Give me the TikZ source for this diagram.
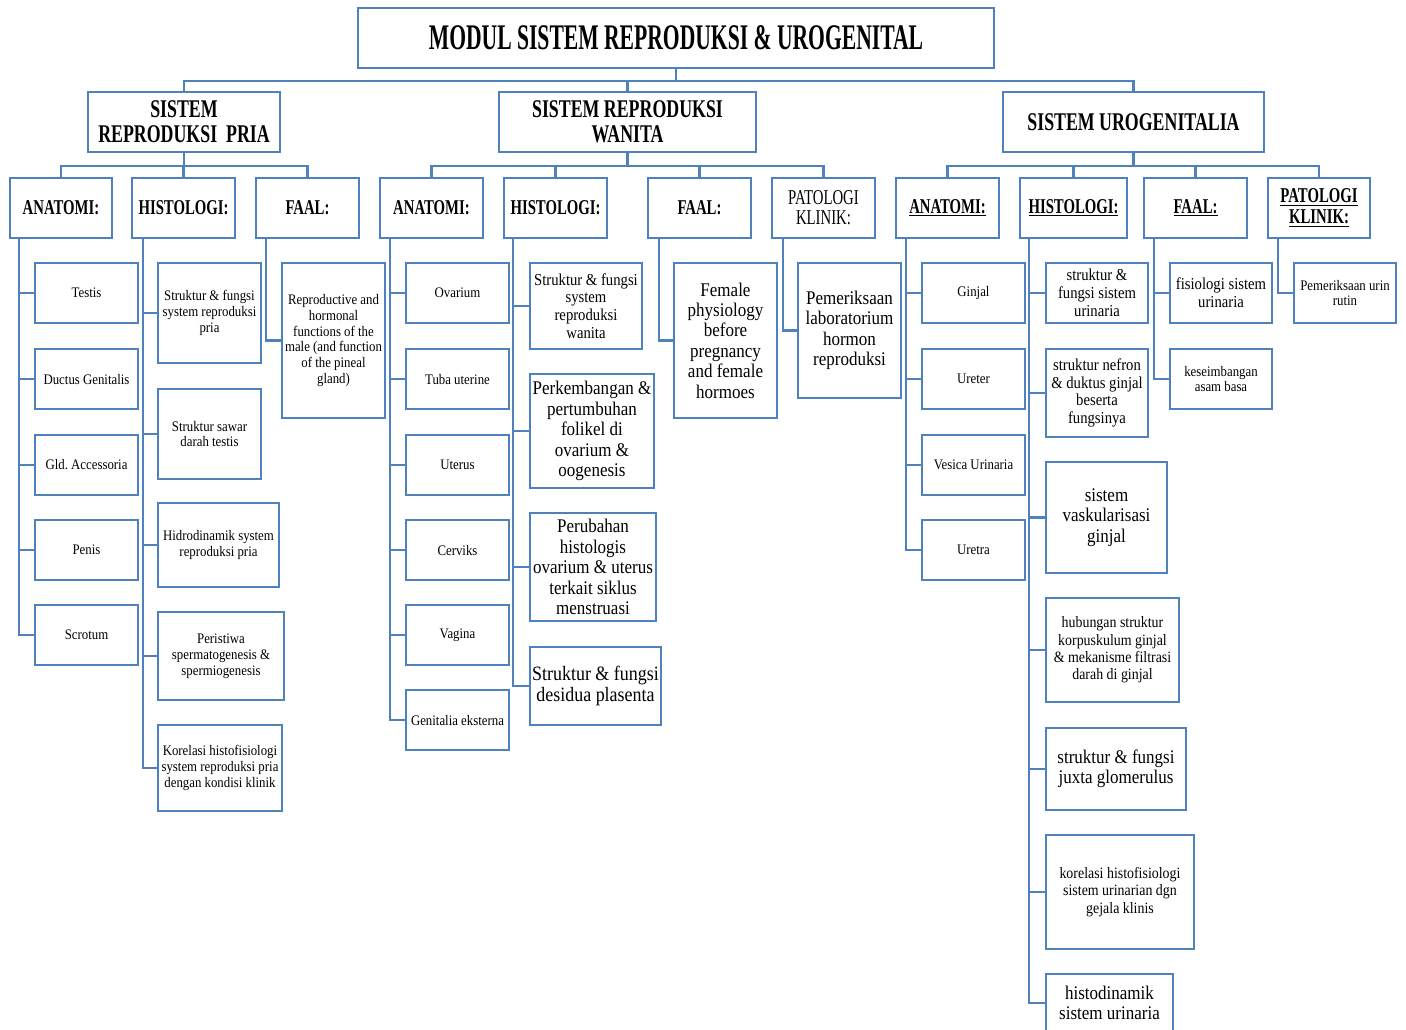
\documentclass[tikz,border=0pt]{standalone}
\usepackage{fontspec}
\setmainfont{Liberation Serif}[FakeStretch=0.88]
\newfontfamily\headfont{Liberation Serif}[FakeStretch=0.7]
\newfontfamily\titlefont{Liberation Serif}[FakeStretch=0.6]
\usetikzlibrary{calc}
\definecolor{boxblue}{RGB}{79,129,189}

\begin{document}
\begin{tikzpicture}[x=0.02cm, y=-0.02cm,
    box/.style={draw=boxblue, line width=1.2pt, fill=white, inner sep=0.5pt, align=center, text=black},
    sz/.style 2 args={minimum width=#1*0.02cm, minimum height=#2*0.02cm},
    wire/.style={draw=boxblue, line width=1.2pt},
    toptext/.style={font=\titlefont\bfseries\fontsize{20.5}{22}\selectfont},
    headtext/.style={font=\headfont\bfseries\fontsize{14.5}{14.2}\selectfont},
    subtext/.style={font=\headfont\bfseries\fontsize{12}{11.8}\selectfont},
    subplain/.style={font=\headfont\fontsize{12}{11.4}\selectfont},
    tinytext/.style={font=\fontsize{8.3}{9}\selectfont},
    midtext/.style={font=\fontsize{9}{9.9}\selectfont},
    smalltext/.style={font=\fontsize{9.5}{10.1}\selectfont},
    bigtext/.style={font=\fontsize{11}{11.6}\selectfont}]
    \useasboundingbox (0,0) rectangle (1406,1029);

    % top levels
    \node[box, toptext, sz={636}{60}] (title) at (676,38) {MODUL SISTEM REPRODUKSI \& UROGENITAL};
    \node[box, headtext, sz={192}{60}] (pria) at (184,122) {SISTEM\\REPRODUKSI\ \ PRIA};
    \node[box, headtext, sz={257}{60}] (wanita) at (627.5,122) {SISTEM REPRODUKSI\\WANITA};
    \node[box, headtext, sz={261}{60}] (uro) at (1133.5,122) {SISTEM UROGENITALIA};

    % sub headings
    \node[box, subtext, sz={102}{60}] (pA) at (61,208) {ANATOMI:};
    \node[box, subtext, sz={103}{60}] (pH) at (183.5,208) {HISTOLOGI:};
    \node[box, subtext, sz={103}{60}] (pF) at (307.5,208) {FAAL:};
    \node[box, subtext, sz={103}{60}] (wA) at (431.5,208) {ANATOMI:};
    \node[box, subtext, sz={103}{60}] (wH) at (555.5,208) {HISTOLOGI:};
    \node[box, subtext, sz={103}{60}] (wF) at (699.5,208) {FAAL:};
    \node[box, subplain, sz={103}{60}] (wP) at (823.5,208) {PATOLOGI\\KLINIK:};
    \node[box, subtext, sz={103}{60}] (uA) at (947.5,208) {\underline{ANATOMI:}};
    \node[box, subtext, sz={107}{60}] (uH) at (1073.5,208) {\underline{HISTOLOGI:}};
    \node[box, subtext, sz={103}{60}] (uF) at (1195.5,208) {\underline{FAAL:}};
    \node[box, subtext, sz={102}{60}] (uP) at (1319,208) {\underline{PATOLOGI}\\\underline{KLINIK:}};

    % pria
    \begin{scope}[every node/.style={box, tinytext}]
        \node[sz={103}{60}] (testis) at (86.5,293) {Testis};
        \node[sz={103}{60}] (ductus) at (86.5,379) {Ductus Genitalis};
        \node[sz={103}{60}] (gld) at (86.5,465) {Gld.\ Accessoria};
        \node[sz={103}{60}] (penis) at (86.5,550) {Penis};
        \node[sz={103}{60}] (scrotum) at (86.5,635) {Scrotum};
        \node[sz={103}{100}] (ph1) at (209.5,313) {Struktur \& fungsi\\system reproduksi\\pria};
        \node[sz={103}{90}] (ph2) at (209.5,434) {Struktur sawar\\darah testis};
        \node[sz={121}{84}] (ph3) at (218.5,545) {Hidrodinamik system\\reproduksi pria};
        \node[sz={126}{88}] (ph4) at (221,656) {Peristiwa\\spermatogenesis \&\\spermiogenesis};
        \node[sz={124}{86}] (ph5) at (220,768) {Korelasi histofisiologi\\system reproduksi pria\\dengan kondisi klinik};
        \node[sz={103}{155}] (pf1) at (333.5,340.5) {Reproductive and\\hormonal\\functions of the\\male (and function\\of the pineal\\gland)};
    \end{scope}

    % wanita
    \begin{scope}[every node/.style={box, tinytext}]
        \node[sz={103}{60}] (ovarium) at (457.5,293) {Ovarium};
        \node[sz={103}{60}] (tuba) at (457.5,379) {Tuba uterine};
        \node[sz={103}{60}] (uterus) at (457.5,465) {Uterus};
        \node[sz={103}{60}] (cerviks) at (457.5,550) {Cerviks};
        \node[sz={103}{60}] (vagina) at (457.5,635) {Vagina};
        \node[sz={103}{60}] (genitalia) at (457.5,720) {Genitalia eksterna};
    \end{scope}
    \node[box, smalltext, sz={112}{86}] (wh1) at (586,306) {Struktur \& fungsi\\system\\reproduksi\\wanita};
    \node[box, bigtext, sz={124}{114}] (wh2) at (592,431) {Perkembangan \&\\pertumbuhan\\folikel di\\ovarium \&\\oogenesis};
    \node[box, bigtext, sz={126}{108}] (wh3) at (593,567) {Perubahan\\histologis\\ovarium \& uterus\\terkait siklus\\menstruasi};
    \node[box, bigtext, font=\fontsize{11.6}{12.4}\selectfont, sz={131}{78}] (wh4) at (595.5,686) {Struktur \& fungsi\\desidua plasenta};
    \node[box, bigtext, sz={103}{155}] (wf1) at (725.5,340.5) {Female\\physiology\\before\\pregnancy\\and female\\hormoes};
    \node[box, bigtext, sz={103}{135}] (wp1) at (849.5,330.5) {Pemeriksaan\\laboratorium\\hormon\\reproduksi};

    % urogenitalia
    \begin{scope}[every node/.style={box, tinytext}]
        \node[sz={103}{60}] (ginjal) at (973.5,293) {Ginjal};
        \node[sz={103}{60}] (ureter) at (973.5,379) {Ureter};
        \node[sz={103}{60}] (vesica) at (973.5,465) {Vesica Urinaria};
        \node[sz={103}{60}] (uretra) at (973.5,550) {Uretra};
        \node[sz={102}{60}] (uf2) at (1221,379) {keseimbangan\\asam basa};
        \node[sz={102}{60}] (up1) at (1345,293) {Pemeriksaan urin\\rutin};
    \end{scope}
    \node[box, smalltext, sz={102}{60}] (uh1) at (1097,293) {struktur \&\\fungsi sistem\\urinaria};
    \node[box, smalltext, sz={102}{88}] (uh2) at (1097,393) {struktur nefron\\\& duktus ginjal\\beserta\\fungsinya};
    \node[box, bigtext, sz={121}{111}] (uh3) at (1106.5,517.5) {sistem\\vaskularisasi\\ginjal};
    \node[box, midtext, sz={133}{104}] (uh4) at (1112.5,650) {hubungan struktur\\korpuskulum ginjal\\\& mekanisme filtrasi\\darah di ginjal};
    \node[box, bigtext, sz={140}{82}] (uh5) at (1116,769) {struktur \& fungsi\\juxta glomerulus};
    \node[box, midtext, sz={148}{114}] (uh6) at (1120,892) {korelasi histofisiologi\\sistem urinarian dgn\\gejala klinis};
    \node[box, bigtext, sz={127}{58}] (uh7) at (1109.5,1003) {histodinamik\\sistem urinaria};
    \node[box, smalltext, sz={102}{60}] (uf1) at (1221,293) {fisiologi sistem\\urinaria};

    % connectors
    \foreach \k in {pria,wanita,uro}
        \draw[wire] (title.south) -- ++(0,12) -| (\k.north);
    \foreach \k in {pA,pH,pF}
        \draw[wire] (pria.south) -- ++(0,13) -| (\k.north);
    \foreach \k in {wA,wH,wF,wP}
        \draw[wire] (wanita.south) -- ++(0,13) -| (\k.north);
    \foreach \k in {uA,uH,uF,uP}
        \draw[wire] (uro.south) -- ++(0,13) -| (\k.north);

    \foreach \k in {testis,ductus,gld,penis,scrotum}
        \draw[wire] ($(pA.south west)+(10,0)$) |- (\k.west);
    \foreach \k in {ph1,ph2,ph3,ph4,ph5}
        \draw[wire] ($(pH.south west)+(12,0)$) |- (\k.west);
    \draw[wire] ($(pF.south west)+(11,0)$) |- (pf1.west);
    \foreach \k in {ovarium,tuba,uterus,cerviks,vagina,genitalia}
        \draw[wire] ($(wA.south west)+(11,0)$) |- (\k.west);
    \foreach \k in {wh1,wh2,wh3,wh4}
        \draw[wire] ($(wH.south west)+(10,0)$) |- (\k.west);
    \draw[wire] ($(wF.south west)+(12,0)$) |- (wf1.west);
    \draw[wire] ($(wP.south west)+(12,0)$) |- (wp1.west);
    \foreach \k in {ginjal,ureter,vesica,uretra}
        \draw[wire] ($(uA.south west)+(11,0)$) |- (\k.west);
    \foreach \k in {uh1,uh2,uh3,uh4,uh5,uh6,uh7}
        \draw[wire] ($(uH.south west)+(10,0)$) |- (\k.west);
    \foreach \k in {uf1,uf2}
        \draw[wire] ($(uF.south west)+(11,0)$) |- (\k.west);
    \draw[wire] ($(uP.south west)+(11,0)$) |- (up1.west);
\end{tikzpicture}
\end{document}
